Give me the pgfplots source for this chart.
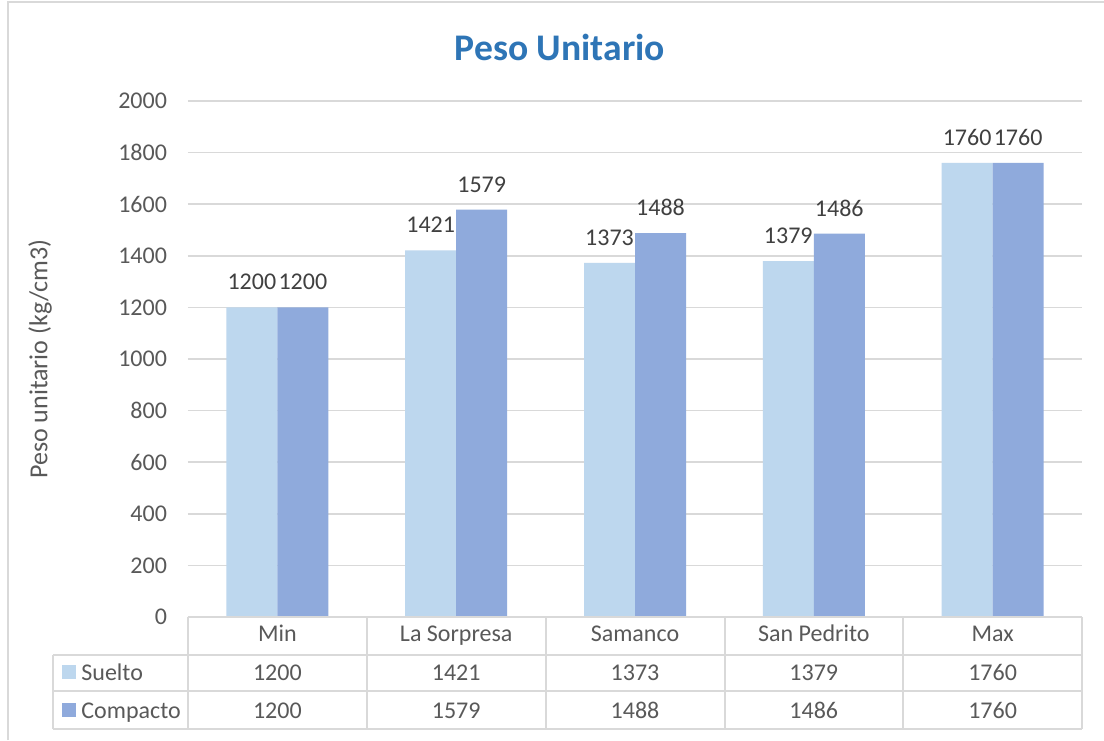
\documentclass[border=0pt]{standalone}
\usepackage{pgfplots}
\pgfplotsset{compat=1.18}
\usepackage{fontspec}
\setmainfont{Carlito}
\definecolor{suelto}{HTML}{BDD7EE}
\definecolor{compacto}{HTML}{8FAADC}
\definecolor{txt}{HTML}{595959}
\definecolor{lbl}{HTML}{404040}
\definecolor{gridc}{HTML}{D9D9D9}
\definecolor{ttl}{HTML}{2E75B6}
\newcommand{\fs}{\fontsize{12}{14}\selectfont}
\begin{document}
\begin{tikzpicture}
\useasboundingbox (0pt,0pt) rectangle (552pt,370pt);
\fill[white] (0pt,0pt) rectangle (552pt,370pt);
\draw[gridc, line width=0.75pt] (4pt,0pt) -- (4pt,369pt) -- (552pt,369pt);
\node[font=\fontsize{18.8}{22}\selectfont\bfseries, text=ttl] at (280pt,346.5pt) {Peso Unitario};
\begin{axis}[
  at={(94pt,61.5pt)}, anchor=south west,
  width=447pt, height=258pt, scale only axis,
  xmin=-0.5, xmax=4.5, ymin=0, ymax=2000,
  ytick={0,200,...,2000}, xtick=\empty,
  axis line style={draw=none},
  ymajorgrids, grid style={gridc, line width=0.75pt},
  major tick length=0pt,
  /pgf/number format/1000 sep={},
  /pgf/number format/assume math mode=true,
  yticklabel style={font=\fs, text=txt, xshift=-7pt},
  ylabel={Peso unitario (kg/cm3)},
  ylabel style={font=\fontsize{13}{15}\selectfont, text=txt, at={(axis description cs:-0.1655,0.5)}, anchor=center},
  ybar, bar width=25.5pt,
  nodes near coords,
  nodes near coords style={font=\fs, text=lbl, anchor=south, inner sep=1pt, yshift=7.5pt},
  clip=false,
]
\addplot[fill=suelto, draw=none, bar shift=-12.75pt] coordinates {(0,1200) (1,1421) (2,1373) (3,1379) (4,1760)};
\addplot[fill=compacto, draw=none, bar shift=12.75pt] coordinates {(0,1200) (1,1579) (2,1488) (3,1486) (4,1760)};
\end{axis}
% data table
\begin{scope}[gridc, line width=0.9pt]
\draw (94pt,61.5pt) -- (541pt,61.5pt);
\foreach \yy in {42.5,24.5,5.5} \draw (26.5pt,\yy pt) -- (541pt,\yy pt);
\draw (26.5pt,5.5pt) -- (26.5pt,42.5pt);
\foreach \xx in {94,183.5,273,362.5,451.5,541} \draw (\xx pt,5.5pt) -- (\xx pt,61.5pt);
\end{scope}
\fill[suelto] (31pt,30.5pt) rectangle (38pt,37.5pt);
\fill[compacto] (31pt,11.5pt) rectangle (38pt,18.5pt);
\begin{scope}[every node/.style={font=\fs, text=txt, inner sep=0pt}]
\node[anchor=base west] at (40.5pt,30pt) {Suelto};
\node[anchor=base west] at (40.5pt,11pt) {Compacto};
\foreach \xx/\nm/\s/\c in {138.7/Min/1200/1200, 228.1/La Sorpresa/1421/1579, 317.5/Samanco/1373/1488, 406.9/San Pedrito/1379/1486, 496.3/Max/1760/1760} {
  \node[anchor=base] at (\xx pt,49pt) {\nm};
  \node[anchor=base] at (\xx pt,30pt) {\s};
  \node[anchor=base] at (\xx pt,11pt) {\c};
}
\end{scope}
\end{tikzpicture}
\end{document}
